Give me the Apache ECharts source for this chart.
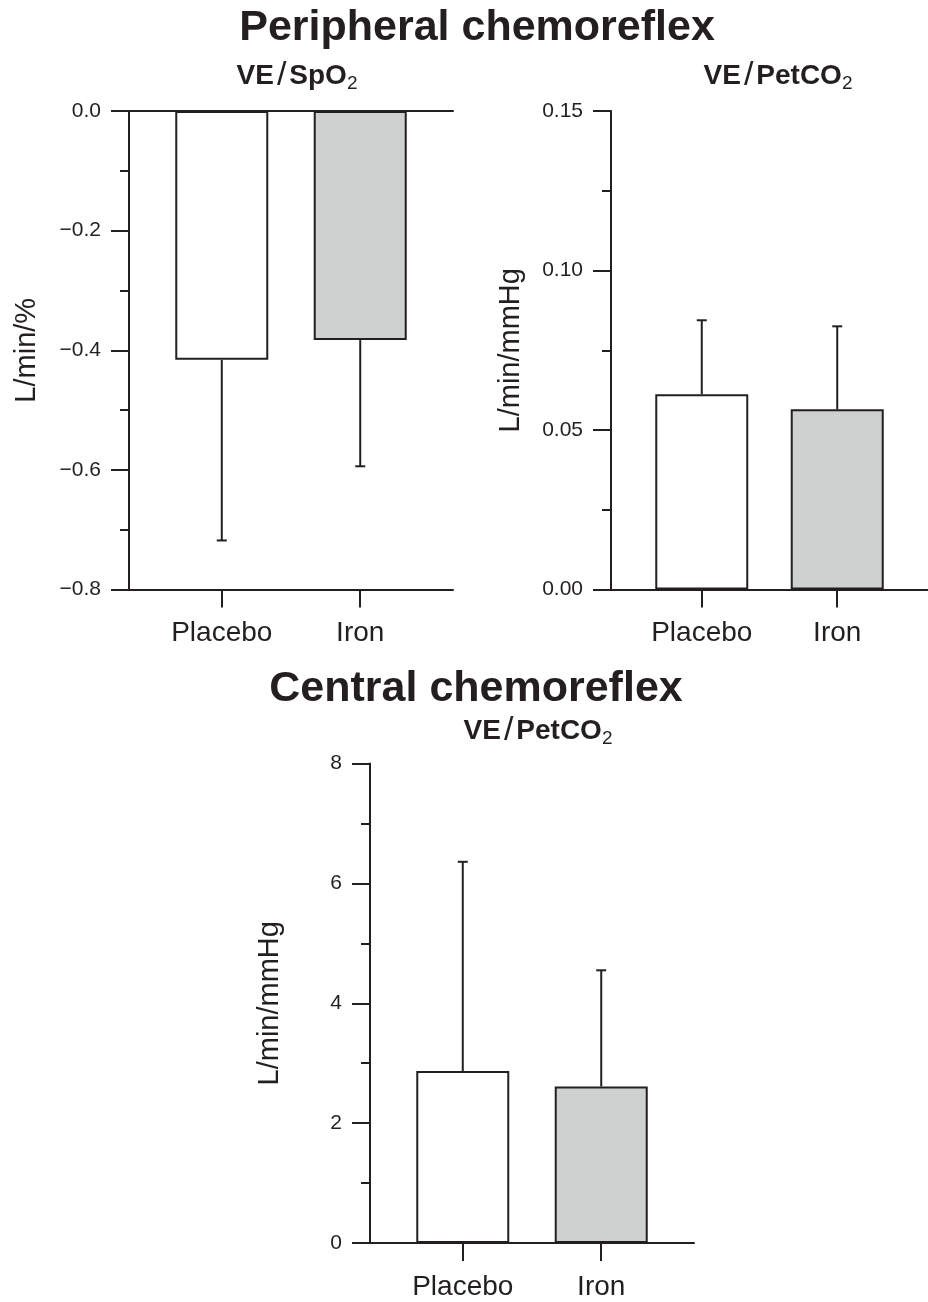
<!DOCTYPE html>
<html>
<head>
<meta charset="utf-8">
<script src="https://cdn.jsdelivr.net/npm/echarts@6/dist/echarts.min.js"></script>
<style>
html,body{margin:0;padding:0;background:#fff;}
#chart{width:928px;height:1302px;}
</style>
</head>
<body>
<div id="chart"></div>
<script>
// ---- data ----
const categories = ['Placebo', 'Iron'];
const catPos = [0, 1];
// Peripheral chemoreflex, VE/SpO2 (L/min/%)
const spo2Means = [-0.416, -0.383];
const spo2Err = [0.302, 0.211];
const spo2Ticks = [-0.8, -0.6, -0.4, -0.2, 0.0];
// Peripheral chemoreflex, VE/PetCO2 (L/min/mmHg)
const periPetMeans = [0.0612, 0.0565];
const periPetErr = [0.0232, 0.0260];
const periPetTicks = [0.00, 0.05, 0.10, 0.15];
// Central chemoreflex, VE/PetCO2 (L/min/mmHg)
const centralMeans = [2.87, 2.61];
const centralErr = [3.49, 1.94];
const centralTicks = [0, 2, 4, 6, 8];

// ---- styles ----
const FONT = '"Liberation Sans", Arial, Helvetica, sans-serif';
const INK = '#231f20';
const LW = 2;
const barColors = ['#ffffff', '#cfd1d0'];

const richSub = {
  b: {fontSize: 28, fontWeight: 'bold', fontFamily: FONT, color: INK, lineHeight: 34},
  s: {fontSize: 34, fontWeight: 'normal', fontFamily: FONT, color: INK, lineHeight: 34, padding: [0, 3, 0, 3]},
  sub: {fontSize: 19, fontWeight: 'normal', fontFamily: FONT, color: INK, lineHeight: 16, verticalAlign: 'bottom'}
};

const grids = [
  {left: 129, top: 111, width: 324, height: 478.5, containLabel: false},
  {left: 611, top: 111, width: 324, height: 478.5, containLabel: false},
  {left: 370, top: 763.5, width: 324, height: 479.5, containLabel: false}
];

function bottomX(g) {
  return {
    gridIndex: g, type: 'value', min: -0.67, max: 1.67, position: 'bottom',
    axisLine: {show: true, onZero: false, lineStyle: {color: INK, width: LW}},
    splitLine: {show: false},
    axisTick: {show: true, customValues: catPos, length: 18, lineStyle: {color: INK, width: LW}},
    axisLabel: {show: true, customValues: catPos, formatter: v => categories[Math.round(v)],
      fontSize: 28, margin: 30, color: INK, fontFamily: FONT}
  };
}
function topX(g) {
  return {
    gridIndex: g, type: 'value', min: -0.67, max: 1.67, position: 'top',
    axisLine: {show: true, onZero: false, lineStyle: {color: INK, width: LW}},
    splitLine: {show: false}, axisTick: {show: false}, axisLabel: {show: false}
  };
}
function yAx(g, ticks, interval, fmt, name, nameGap) {
  return {
    gridIndex: g, type: 'value', min: ticks[0], max: ticks[ticks.length - 1], interval: interval,
    axisLine: {show: true, onZero: false, lineStyle: {color: INK, width: LW}},
    splitLine: {show: false},
    axisTick: {show: true, inside: false, length: 18, lineStyle: {color: INK, width: LW}},
    minorTick: {show: true, splitNumber: 2, length: 9, lineStyle: {color: INK, width: LW}},
    axisLabel: {formatter: fmt, fontSize: 21, margin: 28, color: INK, fontFamily: FONT},
    name: name, nameLocation: 'middle', nameGap: nameGap,
    nameTextStyle: {fontSize: 29, color: INK, fontFamily: FONT}
  };
}

function errorRender(params, api) {
  const x = api.value(0), v = api.value(1), e = api.value(2);
  const end = v < 0 ? v - e : v + e;
  const p0 = api.coord([x, v]);
  const p1 = api.coord([x, end]);
  const cap = 5;
  const st = {stroke: INK, lineWidth: LW};
  return {type: 'group', children: [
    {type: 'line', shape: {x1: p0[0], y1: p0[1], x2: p1[0], y2: p1[1]}, style: st},
    {type: 'line', shape: {x1: p1[0] - cap, y1: p1[1], x2: p1[0] + cap, y2: p1[1]}, style: st}
  ]};
}

function barSeries(xi, yi, means) {
  return {
    type: 'bar', xAxisIndex: xi, yAxisIndex: yi, barWidth: 93, z: 2,
    data: means.map((m, i) => ({value: [catPos[i], m],
      itemStyle: {color: barColors[i], borderColor: INK, borderWidth: LW}})),
    silent: true, animation: false
  };
}
function errSeries(xi, yi, means, errs) {
  return {
    type: 'custom', xAxisIndex: xi, yAxisIndex: yi, z: 3,
    renderItem: errorRender,
    data: means.map((m, i) => [catPos[i], m, errs[i]]),
    silent: true, animation: false
  };
}

const option = {
  backgroundColor: '#ffffff',
  animation: false,
  textStyle: {fontFamily: FONT},
  title: [
    {text: 'Peripheral chemoreflex', left: 472, top: 2, textAlign: 'center',
      textStyle: {fontSize: 43, fontWeight: 'bold', color: INK, fontFamily: FONT}},
    {text: '{b|VE}{s|/}{b|SpO}{sub|2}', left: 292, top: 54, textAlign: 'center', textStyle: {rich: richSub}},
    {text: '{b|VE}{s|/}{b|PetCO}{sub|2}', left: 773, top: 54, textAlign: 'center', textStyle: {rich: richSub}},
    {text: 'Central chemoreflex', left: 471, top: 663, textAlign: 'center',
      textStyle: {fontSize: 43, fontWeight: 'bold', color: INK, fontFamily: FONT}},
    {text: '{b|VE}{s|/}{b|PetCO}{sub|2}', left: 533, top: 709, textAlign: 'center', textStyle: {rich: richSub}}
  ],
  grid: grids,
  xAxis: [bottomX(0), topX(0), bottomX(1), bottomX(2)],
  yAxis: [
    yAx(0, spo2Ticks, 0.2, v => (Math.abs(v) < 1e-9 ? '0.0' : v.toFixed(1).replace('-', '\u2212')), 'L/min/%', 88),
    yAx(1, periPetTicks, 0.05, v => v.toFixed(2), 'L/min/mmHg', 86),
    yAx(2, centralTicks, 2, v => String(v), 'L/min/mmHg', 86)
  ],
  series: [
    barSeries(0, 0, spo2Means), errSeries(0, 0, spo2Means, spo2Err),
    barSeries(2, 1, periPetMeans), errSeries(2, 1, periPetMeans, periPetErr),
    barSeries(3, 2, centralMeans), errSeries(3, 2, centralMeans, centralErr)
  ]
};

const chart = echarts.init(document.getElementById('chart'), null, {renderer: 'canvas'});
chart.setOption(option);
</script>
</body>
</html>
